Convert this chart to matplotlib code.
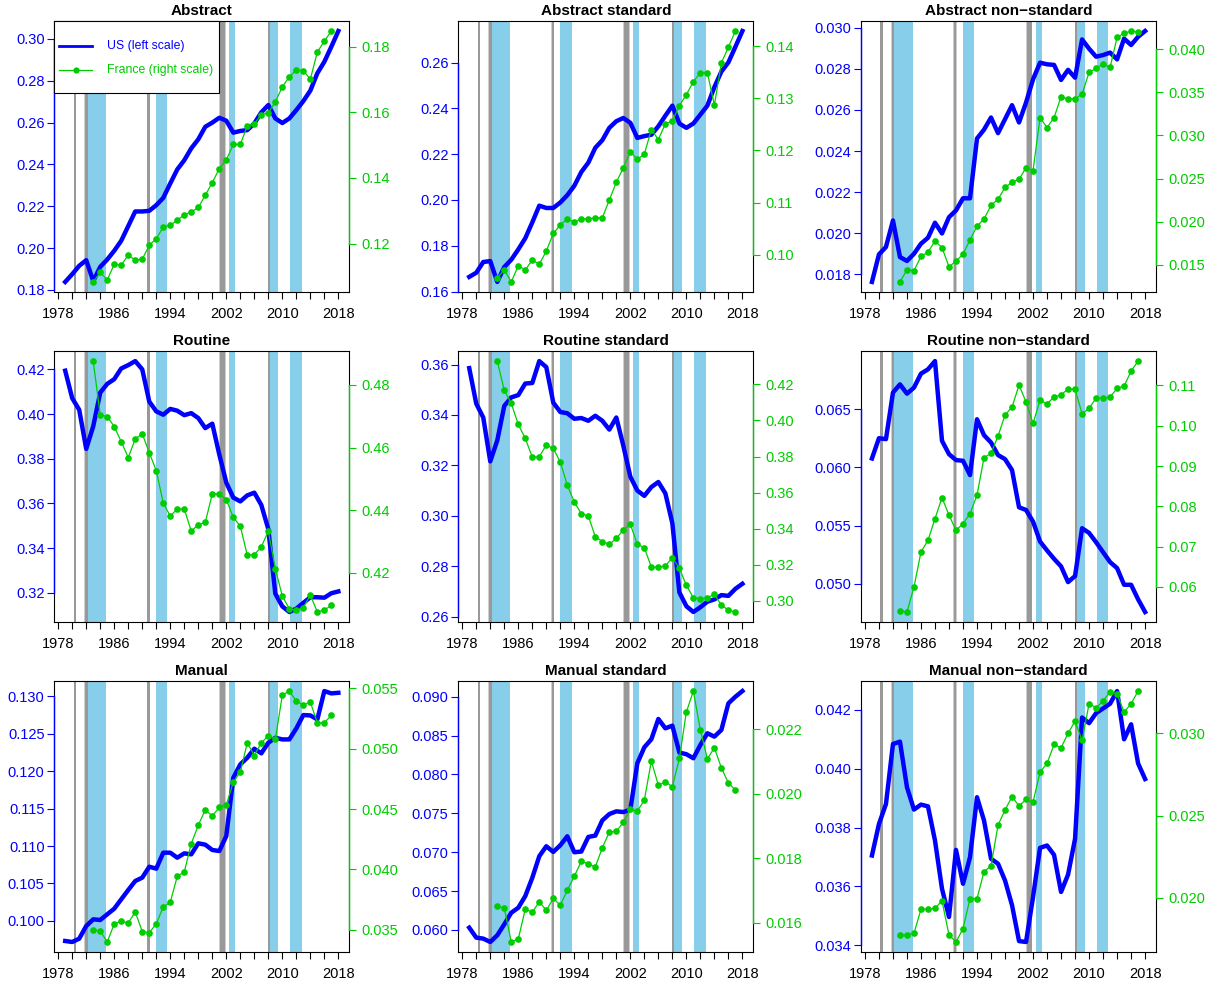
import matplotlib
matplotlib.use('Agg')
import matplotlib.pyplot as plt
from matplotlib.lines import Line2D
from matplotlib.patches import Rectangle

plt.rcParams['font.family'] = ['Liberation Sans', 'DejaVu Sans']

US_BLUE = '#0000FF'
FR_GREEN = '#00CD00'

years_us = list(range(1979, 2019))
years_fr = list(range(1983, 2018))

titles = ['Abstract', 'Abstract standard', 'Abstract non\u2212standard',
          'Routine', 'Routine standard', 'Routine non\u2212standard',
          'Manual', 'Manual standard', 'Manual non\u2212standard']

# US series (left scale), 1979-2018
us_abstract = [0.1838, 0.1875, 0.1915, 0.1942, 0.1842, 0.1910, 0.1945, 0.1987, 0.2035, 0.2105,
               0.2175, 0.2175, 0.2178, 0.2205, 0.2240, 0.2309, 0.2376, 0.2420, 0.2477, 0.2520,
               0.2580, 0.2600, 0.2623, 0.2609, 0.2552, 0.2560, 0.2564, 0.2596, 0.2649, 0.2684,
               0.2620, 0.2598, 0.2620, 0.2660, 0.2703, 0.2753, 0.2836, 0.2891, 0.2963, 0.3038]
us_abstract_std = [0.1664, 0.1682, 0.1729, 0.1733, 0.1642, 0.1707, 0.1739, 0.1784, 0.1833, 0.1902,
                   0.1975, 0.1965, 0.1965, 0.1989, 0.2021, 0.2062, 0.2122, 0.2163, 0.2228, 0.2261,
                   0.2315, 0.2344, 0.2358, 0.2337, 0.2271, 0.2279, 0.2285, 0.2322, 0.2368, 0.2412,
                   0.2334, 0.2315, 0.2334, 0.2373, 0.2412, 0.2493, 0.2561, 0.2601, 0.2669, 0.2738]
us_abstract_nstd = [0.01763, 0.01897, 0.01933, 0.02062, 0.01884, 0.01865, 0.01900, 0.01949, 0.01978, 0.02051,
                    0.01999, 0.02078, 0.02111, 0.02170, 0.02170, 0.02461, 0.02504, 0.02563, 0.02487, 0.02555,
                    0.02623, 0.02539, 0.02636, 0.02749, 0.02830, 0.02822, 0.02819, 0.02746, 0.02795, 0.02757,
                    0.02943, 0.02898, 0.02859, 0.02867, 0.02879, 0.02846, 0.02947, 0.02916, 0.02956, 0.02984]
us_routine = [0.4194, 0.4071, 0.4019, 0.3844, 0.3945, 0.4096, 0.4135, 0.4156, 0.4204, 0.4219,
              0.4237, 0.4200, 0.4056, 0.4012, 0.3997, 0.4023, 0.4015, 0.3995, 0.4004, 0.3982,
              0.3937, 0.3957, 0.3819, 0.3693, 0.3626, 0.3609, 0.3636, 0.3648, 0.3593, 0.3485,
              0.3196, 0.3139, 0.3114, 0.3129, 0.3155, 0.3180, 0.3180, 0.3178, 0.3198, 0.3206]
us_routine_std = [0.3586, 0.3445, 0.3390, 0.3216, 0.3299, 0.3436, 0.3470, 0.3479, 0.3525, 0.3527,
                  0.3614, 0.3590, 0.3449, 0.3412, 0.3407, 0.3385, 0.3388, 0.3377, 0.3397, 0.3377,
                  0.3342, 0.3390, 0.3278, 0.3155, 0.3100, 0.3079, 0.3114, 0.3134, 0.3089, 0.2970,
                  0.2696, 0.2641, 0.2618, 0.2637, 0.2659, 0.2668, 0.2685, 0.2682, 0.2710, 0.2730]
us_routine_nstd = [0.06077, 0.06251, 0.06243, 0.06643, 0.06714, 0.06634, 0.06686, 0.06806, 0.06843, 0.06914,
                   0.06229, 0.06114, 0.06063, 0.06057, 0.05934, 0.06414, 0.06277, 0.06214, 0.06106, 0.06071,
                   0.05977, 0.05657, 0.05634, 0.05534, 0.05363, 0.05286, 0.05214, 0.05149, 0.05014, 0.05066,
                   0.05477, 0.05437, 0.05357, 0.05271, 0.05186, 0.05134, 0.04991, 0.04991, 0.04866, 0.04757]
us_manual = [0.09733, 0.09720, 0.09764, 0.09933, 0.10022, 0.10013, 0.10089, 0.10164, 0.10289, 0.10413,
             0.10533, 0.10578, 0.10724, 0.10698, 0.10911, 0.10911, 0.10844, 0.10902, 0.10889, 0.11036,
             0.11018, 0.10947, 0.10933, 0.11133, 0.11911, 0.12089, 0.12178, 0.12298, 0.12236, 0.12378,
             0.12444, 0.12422, 0.12422, 0.12569, 0.12747, 0.12742, 0.12689, 0.13067, 0.13036, 0.13044]
us_manual_std = [0.06030, 0.05902, 0.05889, 0.05846, 0.05932, 0.06073, 0.06222, 0.06286, 0.06436, 0.06671,
                 0.06949, 0.07077, 0.07004, 0.07090, 0.07205, 0.07000, 0.07009, 0.07197, 0.07214, 0.07410,
                 0.07491, 0.07526, 0.07517, 0.07547, 0.08145, 0.08350, 0.08453, 0.08714, 0.08594, 0.08628,
                 0.08282, 0.08261, 0.08209, 0.08380, 0.08530, 0.08487, 0.08573, 0.08915, 0.09000, 0.09073]
us_manual_nstd = [0.03705, 0.03812, 0.03880, 0.04084, 0.04092, 0.03937, 0.03861, 0.03878, 0.03872, 0.03756,
                  0.03592, 0.03496, 0.03724, 0.03609, 0.03699, 0.03903, 0.03824, 0.03694, 0.03677, 0.03620,
                  0.03536, 0.03414, 0.03411, 0.03564, 0.03731, 0.03739, 0.03707, 0.03581, 0.03640, 0.03762,
                  0.04174, 0.04155, 0.04189, 0.04205, 0.04221, 0.04264, 0.04100, 0.04151, 0.04018, 0.03965]

# France series (right scale), 1983-2017
fr_abstract = [0.1083, 0.1112, 0.1089, 0.1137, 0.1134, 0.1165, 0.1149, 0.1152, 0.1195, 0.1215,
               0.1250, 0.1256, 0.1271, 0.1288, 0.1296, 0.1310, 0.1347, 0.1386, 0.1428, 0.1455,
               0.1502, 0.1502, 0.1559, 0.1565, 0.1593, 0.1599, 0.1632, 0.1678, 0.1708, 0.1729,
               0.1727, 0.1701, 0.1784, 0.1817, 0.1848]
fr_abstract_std = [0.0956, 0.0971, 0.0948, 0.0979, 0.0971, 0.0990, 0.0982, 0.1007, 0.1041, 0.1057,
                   0.1069, 0.1063, 0.1069, 0.1069, 0.1071, 0.1071, 0.1105, 0.1139, 0.1167, 0.1198,
                   0.1183, 0.1193, 0.1240, 0.1221, 0.1251, 0.1256, 0.1286, 0.1307, 0.1332, 0.1349,
                   0.1349, 0.1287, 0.1368, 0.1398, 0.1429]
fr_abstract_nstd = [0.01301, 0.01442, 0.01431, 0.01596, 0.01646, 0.01776, 0.01699, 0.01477, 0.01542, 0.01623,
                    0.01788, 0.01949, 0.02029, 0.02190, 0.02259, 0.02397, 0.02459, 0.02489, 0.02627, 0.02593,
                    0.03206, 0.03091, 0.03206, 0.03448, 0.03425, 0.03425, 0.03479, 0.03732, 0.03778, 0.03827,
                    0.03789, 0.04138, 0.04184, 0.04211, 0.04199]
fr_routine = [0.4876, 0.4704, 0.4699, 0.4667, 0.4619, 0.4568, 0.4627, 0.4644, 0.4584, 0.4526,
              0.4423, 0.4381, 0.4404, 0.4404, 0.4333, 0.4354, 0.4361, 0.4452, 0.4452, 0.4434,
              0.4377, 0.4349, 0.4256, 0.4258, 0.4283, 0.4333, 0.4213, 0.4126, 0.4085, 0.4081,
              0.4089, 0.4129, 0.4075, 0.4081, 0.4096]
fr_routine_std = [0.4329, 0.4167, 0.4095, 0.3978, 0.3901, 0.3797, 0.3799, 0.3864, 0.3845, 0.3770,
                  0.3641, 0.3548, 0.3484, 0.3471, 0.3356, 0.3329, 0.3314, 0.3347, 0.3393, 0.3425,
                  0.3314, 0.3295, 0.3188, 0.3188, 0.3194, 0.3240, 0.3181, 0.3087, 0.3018, 0.3013,
                  0.3018, 0.3037, 0.2976, 0.2950, 0.2939]
fr_routine_nstd = [0.05405, 0.05380, 0.06000, 0.06868, 0.07157, 0.07694, 0.08215, 0.07785, 0.07405, 0.07570,
                   0.07818, 0.08281, 0.09207, 0.09314, 0.09744, 0.10264, 0.10463, 0.11008, 0.10587, 0.10058,
                   0.10628, 0.10545, 0.10711, 0.10760, 0.10917, 0.10901, 0.10298, 0.10430, 0.10686, 0.10686,
                   0.10711, 0.10926, 0.10983, 0.11355, 0.11603]
fr_manual = [0.03500, 0.03491, 0.03400, 0.03549, 0.03571, 0.03557, 0.03649, 0.03486, 0.03477, 0.03549,
             0.03691, 0.03729, 0.03943, 0.03980, 0.04214, 0.04366, 0.04494, 0.04443, 0.04514, 0.04534,
             0.04723, 0.04806, 0.05049, 0.04943, 0.05049, 0.05106, 0.05077, 0.05443, 0.05477, 0.05394,
             0.05363, 0.05386, 0.05214, 0.05214, 0.05277]
fr_manual_std = [0.01652, 0.01646, 0.01541, 0.01550, 0.01643, 0.01633, 0.01666, 0.01639, 0.01676, 0.01655,
                 0.01701, 0.01745, 0.01791, 0.01783, 0.01774, 0.01833, 0.01882, 0.01884, 0.01912, 0.01952,
                 0.01947, 0.01981, 0.02102, 0.02027, 0.02038, 0.02022, 0.02110, 0.02254, 0.02319, 0.02198,
                 0.02109, 0.02143, 0.02081, 0.02034, 0.02012]
fr_manual_nstd = [0.01773, 0.01773, 0.01783, 0.01929, 0.01929, 0.01935, 0.01980, 0.01773, 0.01730, 0.01811,
                  0.01994, 0.01994, 0.02158, 0.02193, 0.02442, 0.02533, 0.02615, 0.02558, 0.02598, 0.02582,
                  0.02765, 0.02817, 0.02933, 0.02913, 0.03000, 0.03075, 0.02957, 0.03181, 0.03156, 0.03197,
                  0.03254, 0.03241, 0.03130, 0.03181, 0.03258]

us_series = [us_abstract, us_abstract_std, us_abstract_nstd,
             us_routine, us_routine_std, us_routine_nstd,
             us_manual, us_manual_std, us_manual_nstd]
fr_series = [fr_abstract, fr_abstract_std, fr_abstract_nstd,
             fr_routine, fr_routine_std, fr_routine_nstd,
             fr_manual, fr_manual_std, fr_manual_nstd]

# axis ticks (value lists) and decimals for labels
left_ticks = [[0.18, 0.20, 0.22, 0.24, 0.26, 0.28, 0.30],
              [0.16, 0.18, 0.20, 0.22, 0.24, 0.26],
              [0.018, 0.020, 0.022, 0.024, 0.026, 0.028, 0.030],
              [0.32, 0.34, 0.36, 0.38, 0.40, 0.42],
              [0.26, 0.28, 0.30, 0.32, 0.34, 0.36],
              [0.050, 0.055, 0.060, 0.065],
              [0.100, 0.105, 0.110, 0.115, 0.120, 0.125, 0.130],
              [0.060, 0.065, 0.070, 0.075, 0.080, 0.085, 0.090],
              [0.034, 0.036, 0.038, 0.040, 0.042]]
right_ticks = [[0.12, 0.14, 0.16, 0.18],
               [0.10, 0.11, 0.12, 0.13, 0.14],
               [0.015, 0.020, 0.025, 0.030, 0.035, 0.040],
               [0.42, 0.44, 0.46, 0.48],
               [0.30, 0.32, 0.34, 0.36, 0.38, 0.40, 0.42],
               [0.06, 0.07, 0.08, 0.09, 0.10, 0.11],
               [0.035, 0.040, 0.045, 0.050, 0.055],
               [0.016, 0.018, 0.020, 0.022],
               [0.020, 0.025, 0.030]]
left_dec = [2, 2, 3, 2, 2, 3, 3, 3, 3]
right_dec = [2, 2, 3, 2, 2, 2, 3, 3, 3]

# recession shading (years)
grey_bars = [(1980.2, 1980.58), (1981.85, 1982.2), (1990.75, 1991.05),
             (2001.12, 2001.82), (2007.92, 2008.25)]
grey_halo = [(1981.65, 1982.2), (1990.62, 1991.15), (2001.02, 2001.92)]
blue_bars = [(1982.2, 1984.85), (1991.95, 1993.6), (2002.4, 2003.3),
             (2008.25, 2009.35), (2011.1, 2012.75)]

xticks = list(range(1978, 2019, 2))
xlabels = [str(y) if (y - 1978) % 8 == 0 else '' for y in xticks]

legend_labels = ['US (left scale)', 'France (right scale)']

fig = plt.figure(figsize=(12.17, 9.85), dpi=100)

lefts = [0.0446, 0.3766, 0.7075]
bottoms = [0.7036, 0.3685, 0.0335]
W, H = 0.2424, 0.2751


def padded(vals):
    lo, hi = min(vals), max(vals)
    d = 0.04 * (hi - lo)
    return lo - d, hi + d


for i in range(9):
    r, c = divmod(i, 3)
    ax = fig.add_axes([lefts[c], bottoms[r], W, H])
    ax2 = ax.twinx()

    for a, b in grey_halo:
        ax.axvspan(a, b, color='#cfcfcf', lw=0, zorder=0)
    for a, b in blue_bars:
        ax.axvspan(a, b, color='#87CEEB', lw=0, zorder=0.5)
    for a, b in grey_bars:
        ax.axvspan(a, b, color='#999999', lw=0, zorder=1)

    ax.plot(years_us, us_series[i], color=US_BLUE, lw=3.2, zorder=3,
            solid_joinstyle='round')
    ax2.plot(years_fr, fr_series[i], color=FR_GREEN, lw=0.9, marker='o',
             ms=4.8, mew=0, zorder=3)

    ax.set_xlim(1977.44, 2019.56)
    ax.set_ylim(*padded(us_series[i]))
    ax2.set_ylim(*padded(fr_series[i]))

    ax.set_xticks(xticks)
    ax.set_xticklabels(xlabels)
    ax.tick_params(axis='x', direction='out', length=5, width=0.8,
                   labelsize=10.5, pad=6, colors='black')

    ax.set_yticks(left_ticks[i])
    ax.set_yticklabels([f'{v:.{left_dec[i]}f}' for v in left_ticks[i]])
    ax.tick_params(axis='y', colors=US_BLUE, direction='out', length=5,
                   width=0.8, labelsize=10.5, pad=2)
    ax2.set_yticks(right_ticks[i])
    ax2.set_yticklabels([f'{v:.{right_dec[i]}f}' for v in right_ticks[i]])
    ax2.tick_params(axis='y', colors=FR_GREEN, direction='out', length=5,
                    width=0.8, labelsize=10.5, pad=4)

    for sp in ax.spines.values():
        sp.set_linewidth(0.8)
        sp.set_color('black')
    for sp in ax2.spines.values():
        sp.set_visible(False)

    # coloured axis lines over the tick range
    lt = left_ticks[i]
    ax.plot([0, 0], [lt[0], lt[-1]], transform=ax.get_yaxis_transform(),
            color=US_BLUE, lw=1, clip_on=False, zorder=5)
    rt = right_ticks[i]
    ax2.plot([1, 1], [rt[0], rt[-1]], transform=ax2.get_yaxis_transform(),
             color=FR_GREEN, lw=1, clip_on=False, zorder=5)

    ax.set_title(titles[i], fontsize=11, fontweight='bold', pad=4)

    if i == 0:
        # R-style legend box in the top-left corner
        tr = ax2.transAxes
        ax2.add_patch(Rectangle((0, 0.734), 0.559, 0.266, transform=tr,
                                facecolor='white', edgecolor='black',
                                lw=0.8, zorder=10, clip_on=False))
        ax2.add_line(Line2D([0.017, 0.129], [0.908, 0.908], transform=tr,
                            color=US_BLUE, lw=2, zorder=11))
        ax2.add_line(Line2D([0.017, 0.129], [0.819, 0.819], transform=tr,
                            color=FR_GREEN, lw=0.9, zorder=11))
        ax2.add_line(Line2D([0.073], [0.819], transform=tr, color=FR_GREEN,
                            marker='o', ms=4.5, mew=0, zorder=12))
        ax2.text(0.18, 0.908, legend_labels[0], transform=tr, color=US_BLUE,
                 fontsize=8.8, va='center', ha='left', zorder=12)
        ax2.text(0.18, 0.819, legend_labels[1], transform=tr, color=FR_GREEN,
                 fontsize=8.8, va='center', ha='left', zorder=12)

fig.savefig('out.png', dpi=100)
